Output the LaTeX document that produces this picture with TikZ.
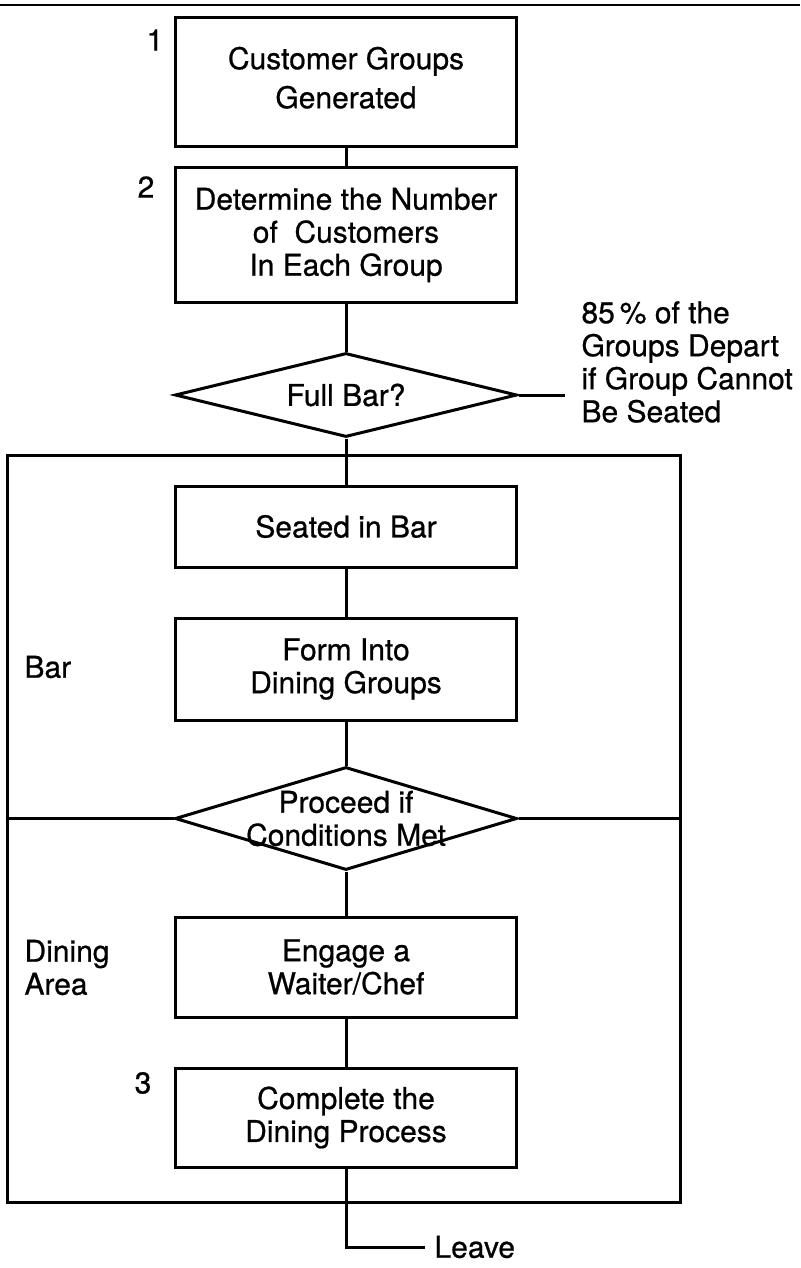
\documentclass[tikz,border=0pt]{standalone}
\usepackage{fontspec}
\setmainfont{TeX Gyre Heros}[FakeBold=0.7]
\usetikzlibrary{shapes.geometric}
\begin{document}
\begin{tikzpicture}[x=1pt,y=-1pt,line width=3pt,
  every node/.style={font=\fontsize{30}{33}\selectfont},
  box/.style={draw,rectangle,minimum width=341pt,align=center,inner sep=0pt},
  dia/.style={draw,diamond,minimum width=342pt,inner sep=0pt},
  lbl/.style={align=left,inner sep=0pt,anchor=west},
  num/.style={inner sep=0pt}]
\useasboundingbox (0,0) rectangle (800,1268);
\draw[line width=2pt] (0,5) -- (800,5);
% frame
\node[draw,rectangle,minimum width=673pt,minimum height=747pt,inner sep=0pt] (frame) at (343.5,828.5) {};
% boxes
\node[box,minimum height=129pt,text depth=10pt] (b1) at (346,82.5) {Customer Groups\\[6pt]Generated};
\node[box,minimum height=134pt] (b2) at (346,235) {Determine the Number\\of\ \ Customers\\In Each Group};
\node[dia,minimum height=84pt] (d1) at (346,395) {};
\node at (d1.center) {Full Bar?};
\node[box,minimum height=81pt] (b3) at (346,526.5) {Seated in Bar};
\node[box,minimum height=102pt] (b4) at (346,669) {Form Into\\Dining Groups};
\node[dia,minimum height=103pt] (d2) at (346,818.5) {};
\node[align=center] at (d2.center) {Proceed if\\Conditions Met};
\node[box,minimum height=100pt] (b5) at (346,967) {Engage a\\Waiter/Chef};
\node[box,minimum height=99pt] (b6) at (346,1117.5) {Complete the\\Dining Process};
% numbers
\node[num] (n1) at (155,40) {1};
\node[num] (n2) at (146,187) {2};
\node[num] (n3) at (143,1083) {3};
% labels
\node[lbl] (bar) at (23,667) {Bar};
\node[lbl] (dining) at (23,967.5) {Dining\\Area};
\coordinate (dep) at (565,395);
\node[lbl] (deptxt) at (580,362) {85\,\% of the\\Groups Depart\\if Group Cannot\\Be Seated};
% connectors
\draw (b1) -- (b2);
\draw (b2) -- (d1);
\draw (d1) -- (b3);
\draw (b3) -- (b4);
\draw (b4) -- (d2);
\draw (d2) -- (b5);
\draw (b5) -- (b6);
\draw (d1.east) -- (dep);
\draw (frame.west |- d2.west) -- (d2.west);
\draw (d2.east) -- (frame.east |- d2.east);
\node[lbl,inner xsep=8pt] (leave) at (425,1247) {Leave};
\draw (b6.south) |- (leave.west);
\end{tikzpicture}
\end{document}
